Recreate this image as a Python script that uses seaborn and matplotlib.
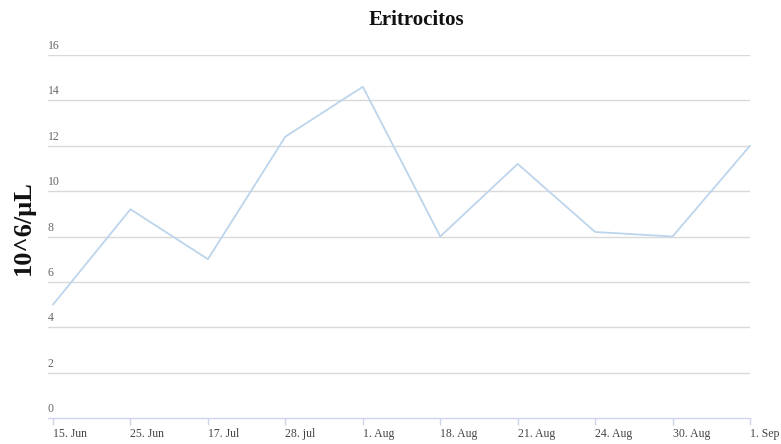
import matplotlib
matplotlib.use("Agg")
import matplotlib.pyplot as plt
import matplotlib.transforms as mtransforms
import seaborn as sns
import pandas as pd

# Erythrocyte counts per sampling date
dates = ["15. Jun", "25. Jun", "17. Jul", "28. jul", "1. Aug",
         "18. Aug", "21. Aug", "24. Aug", "30. Aug", "1. Sep"]
values = [5.0, 9.2, 7.0, 12.4, 14.6, 8.0, 11.2, 8.2, 8.0, 12.0]
y_ticks = [0, 2, 4, 6, 8, 10, 12, 14, 16]

sns.set_style("white")
plt.rcParams["font.family"] = ["Liberation Serif", "DejaVu Serif"]

df = pd.DataFrame({"idx": range(len(dates)), "value": values})

fig = plt.figure(figsize=(7.81, 4.44), dpi=100)
ax = fig.add_axes([48 / 781, 1 - 418 / 444, (750 - 48) / 781, (418 - 55) / 444])

sns.lineplot(data=df, x="idx", y="value", ax=ax, color="#bcd5ec",
             linewidth=1.3, clip_on=False)

ax.set_xlim(-0.065, len(dates) - 1)
ax.set_ylim(0, 16)

# horizontal grid lines
for v in y_ticks[1:]:
    ax.axhline(v, color="#d9d9d9", linewidth=1.0, zorder=0)

# y labels sit just above each grid line at the left edge
trans = mtransforms.blended_transform_factory(ax.transAxes, ax.transData)
lift = mtransforms.ScaledTranslation(0, 3 / 100, fig.dpi_scale_trans)
for v in y_ticks:
    ax.text(0.0, v, str(v), transform=trans + lift, ha="left", va="bottom",
            fontsize=8.5, color="#666666")
ax.set_yticks([])

ax.set_xticks(range(len(dates)))
ax.set_xticklabels(dates, ha="left", fontsize=8.5, color="#444444")
ax.tick_params(axis="x", length=5, width=1, color="#ccd6eb", pad=2,
               direction="out", bottom=True)

for s in ["top", "right", "left"]:
    ax.spines[s].set_visible(False)
ax.spines["bottom"].set_color("#ccd6eb")
ax.spines["bottom"].set_linewidth(1)

ax.set_xlabel("")
ax.set_ylabel("")

fig.text(23 / 781, 1 - 228 / 444, "10^6/\u03bcL", rotation=90, ha="center",
         va="center", fontsize=19, fontweight="bold", color="#111111")
fig.text(416 / 781, 1 - 20 / 444, "Eritrocitos", ha="center", va="center",
         fontsize=15, fontweight="bold", color="#111111")

fig.savefig("out.png", dpi=100)
